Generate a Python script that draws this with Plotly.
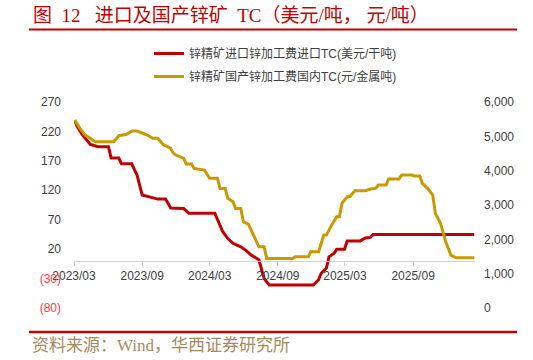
import plotly.graph_objects as go

# ---------------- data ----------------
import_dates = [
    "2023-03-03", "2023-03-10", "2023-03-24", "2023-04-07", "2023-04-14", "2023-05-05",
    "2023-06-02", "2023-06-09", "2023-06-30", "2023-07-07", "2023-08-04", "2023-08-11",
    "2023-08-18", "2023-09-01", "2023-09-22", "2023-10-13", "2023-11-03", "2023-11-17",
    "2023-12-22", "2024-01-05", "2024-03-15", "2024-03-29", "2024-04-05", "2024-04-19",
    "2024-05-03", "2024-05-24", "2024-06-07", "2024-06-21", "2024-07-05", "2024-07-12",
    "2024-07-26", "2024-08-09", "2024-12-06", "2024-12-20", "2024-12-27", "2025-01-10",
    "2025-01-17", "2025-01-31", "2025-02-07", "2025-02-28", "2025-03-07", "2025-04-11",
    "2025-04-25", "2025-05-09", "2025-05-16", "2026-02-13",
]
import_tc = [
    239, 228, 214, 203, 198, 194,
    194, 175, 175, 165, 165, 155,
    146, 112, 109, 105, 105, 90,
    89, 81, 81, 60, 50, 38,
    30, 24, 18, 10, 4, 2,
    -30, -41, -41, -32, -21, -12,
    7, 13, 20, 20, 34, 34,
    39, 40, 45, 45,
]

domestic_dates = [
    "2023-03-03", "2023-03-17", "2023-03-31", "2023-04-14", "2023-04-28", "2023-06-16",
    "2023-06-30", "2023-07-21", "2023-08-04", "2023-08-18", "2023-09-01", "2023-09-15",
    "2023-09-29", "2023-10-13", "2023-10-27", "2023-11-10", "2023-11-17", "2023-11-24",
    "2023-12-01", "2023-12-22", "2023-12-29", "2024-01-12", "2024-01-19", "2024-02-16",
    "2024-03-01", "2024-03-22", "2024-03-29", "2024-04-12", "2024-04-19", "2024-05-03",
    "2024-05-10", "2024-05-24", "2024-05-31", "2024-06-14", "2024-06-28", "2024-07-12",
    "2024-07-26", "2024-08-02", "2024-10-11", "2024-10-18", "2024-11-22", "2024-11-29",
    "2024-12-20", "2024-12-27", "2025-01-03", "2025-01-10", "2025-01-24", "2025-02-07",
    "2025-02-14", "2025-02-21", "2025-03-07", "2025-03-14", "2025-03-28", "2025-04-25",
    "2025-05-09", "2025-05-23", "2025-05-30", "2025-06-20", "2025-06-27", "2025-07-25",
    "2025-08-01", "2025-08-29", "2025-09-05", "2025-09-19", "2025-09-26", "2025-10-10",
    "2025-10-24", "2025-10-31", "2025-11-07", "2025-11-14", "2025-11-28", "2025-12-12",
    "2025-12-26", "2026-02-13",
]
domestic_tc = [
    5475, 5233, 5038, 4941, 4843, 4843,
    5018, 5058, 5155, 5155, 5087, 5038,
    4941, 4941, 4767, 4698, 4650, 4505,
    4455, 4359, 4193, 4193, 4067, 4018,
    3776, 3776, 3484, 3484, 3193, 3094,
    2901, 2901, 2511, 2435, 2123, 1782,
    1782, 1444, 1444, 1490, 1490, 1636,
    1636, 1881, 2123, 2123, 2414, 2657,
    2657, 3047, 3240, 3240, 3415, 3415,
    3464, 3484, 3581, 3581, 3755, 3755,
    3872, 3872, 3843, 3843, 3630, 3484,
    3290, 2756, 2610, 2464, 1928, 1540,
    1462, 1462,
]

series_names = ["锌精矿进口锌加工费进口TC(美元/干吨)", "锌精矿国产锌加工费国内TC(元/金属吨)"]

x_tick_vals = ["2023-03-01", "2023-09-01", "2024-03-01", "2024-09-01", "2025-03-01", "2025-09-01"]
x_tick_text = ["2023/03", "2023/09", "2024/03", "2024/09", "2025/03", "2025/09"]

left_tick_vals = [-80, -30, 20, 70, 120, 170, 220, 270]
left_tick_text = ["(80)", "(30)", "20", "70", "120", "170", "220", "270"]
right_tick_vals = [0, 1000, 2000, 3000, 4000, 5000, 6000]

title_text = "图&nbsp;&nbsp;12&nbsp;&nbsp;&nbsp;进口及国产锌矿&nbsp;&nbsp;TC（美元/吨，&nbsp;元/吨）"
source_text = "资料来源：Wind，华西证券研究所"

# ---------------- styling ----------------
RED = "#C00000"
GOLD = "#C99A00"
NEG = "#FF3B3B"
TXT = "#404040"
W, H = 533, 360
L, R, T, B = 74, 58, 102, 52
PW, PH = W - L - R, H - T - B


def px(x):
    return (x - L) / PW


def py(y):
    return (H - B - y) / PH


left_text = [
    f'<span style="color:{NEG}">{t}</span>' if v < 0 else t
    for v, t in zip(left_tick_vals, left_tick_text)
]

fig = go.Figure()
fig.add_trace(go.Scatter(
    x=import_dates, y=import_tc, name=series_names[0], mode="lines",
    line=dict(color=RED, width=3), yaxis="y", legendgroup="a",
))
fig.add_trace(go.Scatter(
    x=domestic_dates, y=domestic_tc, name=series_names[1], mode="lines",
    line=dict(color=GOLD, width=3), yaxis="y2", legendgroup="b",
))

fig.update_layout(
    width=W, height=H,
    margin=dict(l=L, r=R, t=T, b=B, pad=0),
    paper_bgcolor="white", plot_bgcolor="white",
    font=dict(family="Liberation Sans, Noto Sans CJK SC", size=12, color=TXT),
    showlegend=True,
    legend=dict(
        x=px(149), y=py(39), xanchor="left", yanchor="top",
        orientation="v", tracegroupgap=4,
        font=dict(family="Liberation Sans, Noto Sans CJK SC", size=12, color=TXT),
        bgcolor="rgba(0,0,0,0)",
    ),
    xaxis=dict(
        type="date", range=["2023-03-01", "2026-02-15"],
        tickmode="array", tickvals=x_tick_vals, ticktext=x_tick_text,
        showgrid=False, zeroline=False,
        showline=True, linecolor="#D0D0D0", linewidth=1,
        ticks="outside", ticklen=4, tickcolor="#D0D0D0",
        anchor="free", position=(0 - left_tick_vals[0]) / (left_tick_vals[-1] - left_tick_vals[0]),
        tickfont=dict(size=12, color=TXT),
    ),
    yaxis=dict(
        range=[left_tick_vals[0], left_tick_vals[-1]],
        tickmode="array", tickvals=left_tick_vals, ticktext=left_text,
        showgrid=False, zeroline=False, showline=False, ticks="",
        ticklabelstandoff=12,
        tickfont=dict(size=12, color=TXT),
    ),
    yaxis2=dict(
        range=[right_tick_vals[0], right_tick_vals[-1]],
        overlaying="y", side="right",
        tickmode="array", tickvals=right_tick_vals, tickformat=",",
        showgrid=False, zeroline=False, showline=False, ticks="",
        ticklabelstandoff=8,
        tickfont=dict(size=12, color=TXT),
    ),
)

# title, rules and source note
fig.add_annotation(
    text=title_text, xref="paper", yref="paper", x=px(31), y=py(15),
    xanchor="left", yanchor="middle", showarrow=False,
    font=dict(family="Liberation Serif, Noto Sans CJK SC", size=19, color=RED),
)
fig.add_shape(type="line", xref="paper", yref="paper",
              x0=px(29), x1=px(517), y0=py(29.5), y1=py(29.5),
              line=dict(color=RED, width=2))
fig.add_shape(type="line", xref="paper", yref="paper",
              x0=px(29), x1=px(517), y0=py(332), y1=py(332),
              line=dict(color=RED, width=2.5))
fig.add_annotation(
    text=source_text, xref="paper", yref="paper", x=px(30), y=py(345),
    xanchor="left", yanchor="middle", showarrow=False,
    font=dict(family="Liberation Serif, Noto Sans CJK SC", size=17, color="#A68A5B"),
)

fig.write_html("out.html")
